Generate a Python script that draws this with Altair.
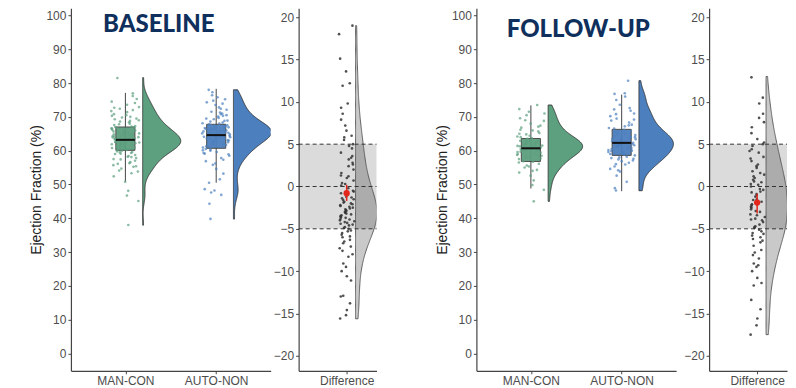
import altair as alt
import pandas as pd

GROUPS = ["MAN-CON", "AUTO-NON"]
COLORS = ["#5ca07f", "#4c7fbe"]
TITLE_COLOR = "#0f2f5c"
PANEL_TITLES = ["BASELINE", "FOLLOW-UP"]
Y_TITLE = "Ejection Fraction (%)"
DIFF_LABEL = "Difference"

BASELINE_MAN_CON = [
    38.0, 45.1, 46.7, 48.1, 50.8, 52.4, 53.3, 54.1, 54.7, 55.2, 55.7, 56.1, 56.6, 57.0,
    57.4, 57.8, 58.1, 58.4, 58.7, 59.0, 59.3, 59.5, 59.8, 60.0, 60.2, 60.4, 60.6, 60.8,
    61.0, 61.1, 61.3, 61.5, 61.6, 61.8, 62.0, 62.1, 62.3, 62.4, 62.6, 62.7, 62.9, 63.0,
    63.1, 63.3, 63.4, 63.6, 63.8, 64.0, 64.2, 64.4, 64.6, 64.8, 65.0, 65.2, 65.4, 65.7,
    65.9, 66.2, 66.5, 66.8, 67.0, 67.3, 67.6, 68.0, 68.4, 68.8, 69.3, 69.8, 70.3, 70.8,
    71.4, 72.0, 72.4, 72.9, 73.6, 74.5, 75.3, 76.2, 77.0, 81.5,
    58.2, 59.1, 60.3, 60.9, 61.4, 61.9, 62.2, 62.5, 62.8, 63.2, 63.5, 63.9, 64.3, 64.7,
    65.1, 65.5, 66.0, 66.6, 67.1, 67.8, 68.6, 69.5, 70.5, 71.7, 72.7, 57.5, 56.3, 55.4,
    59.6, 60.5, 61.2, 62.4, 63.7, 64.5, 65.8, 66.9, 69.0, 70.0, 74.1, 53.8,
]
BASELINE_AUTO_NON = [
    39.8, 44.3, 46.9, 47.6, 48.2, 48.6, 50.5, 51.5, 53.2, 54.6, 55.8, 56.9, 57.8, 58.5,
    59.1, 59.6, 60.1, 60.5, 60.9, 61.3, 61.7, 62.0, 62.3, 62.6, 62.9, 63.1, 63.4, 63.6,
    63.8, 64.0, 64.2, 64.4, 64.6, 64.8, 65.0, 65.2, 65.4, 65.5, 65.7, 65.9, 66.0, 66.2,
    66.4, 66.5, 66.7, 66.9, 67.0, 67.2, 67.4, 67.6, 67.8, 68.0, 68.3, 68.6, 68.9, 69.3,
    69.7, 70.1, 70.5, 71.0, 71.5, 72.1, 72.8, 73.5, 74.3, 75.2, 76.4, 77.3, 78.0,
    57.3, 58.9, 60.3, 61.1, 61.9, 62.5, 63.0, 63.5, 63.9, 64.3, 64.7, 65.1, 65.6, 66.1,
    66.6, 67.1, 67.5, 68.1, 68.8, 69.5, 70.3, 71.3, 72.4, 73.9, 75.8, 62.8, 64.1, 65.3,
    66.3, 67.3, 60.0, 59.3, 56.2, 70.8, 74.8,
]
FOLLOWUP_MAN_CON = [
    45.0, 48.4, 49.8, 51.2, 52.6, 53.5, 54.3, 55.0, 55.6, 56.1, 56.5, 56.9, 57.3, 57.7,
    58.1, 58.5, 58.8, 59.1, 59.4, 59.7, 60.0, 60.2, 60.4, 60.6, 60.8, 61.0, 61.2, 61.4,
    61.6, 61.8, 62.0, 62.2, 62.4, 62.6, 62.8, 63.1, 63.4, 63.7, 64.0, 64.4, 64.8, 65.2,
    65.7, 66.2, 66.8, 67.4, 68.0, 68.8, 69.6, 70.5, 71.5, 72.3, 73.5,
    55.3, 56.7, 57.5, 58.3, 59.0, 59.6, 60.1, 60.5, 60.9, 61.3, 61.7, 62.1, 62.5, 62.9,
    63.5, 64.2, 65.0, 66.0, 67.1, 69.0, 71.0, 54.0, 58.7, 61.5, 60.3, 63.0,
]
FOLLOWUP_AUTO_NON = [
    48.2, 48.9, 50.8, 52.6, 53.8, 54.6, 55.3, 55.9, 56.4, 56.9, 57.4, 57.8, 58.2, 58.6,
    59.0, 59.3, 59.6, 59.9, 60.2, 60.5, 60.8, 61.1, 61.4, 61.7, 62.0, 62.3, 62.5, 62.8,
    63.1, 63.4, 63.7, 64.0, 64.3, 64.6, 65.0, 65.4, 65.8, 66.2, 66.7, 67.2, 67.7, 68.3,
    68.9, 69.5, 70.2, 71.0, 71.8, 72.6, 73.6, 75.0, 76.8, 77.0, 80.7,
    56.0, 57.1, 58.0, 58.8, 59.5, 60.0, 60.6, 61.2, 61.9, 62.4, 62.9, 63.5, 64.1, 64.8,
    65.6, 66.5, 67.5, 69.2, 70.8, 72.2, 54.2, 57.6, 61.6, 63.9, 76.0,
]
DIFF_BASELINE = [
    -15.6, -15.2, -14.6, -13.8, -13.0, -12.9, -11.1, -10.6, -10.0, -9.5, -9.1, -8.3, -7.6,
    -7.1, -6.7, -6.3, -6.0, -5.9, -5.7, -5.5, -5.2, -5.0, -4.9, -4.8, -4.6, -4.5, -4.4,
    -4.2, -4.1, -4.0, -3.9, -3.8, -3.6, -3.5, -3.4, -3.3, -3.2, -3.0, -2.9, -2.8, -2.6,
    -2.5, -2.4, -2.3, -2.2, -2.0, -1.9, -1.8, -1.6, -1.5, -1.4, -1.2, -1.0, -0.8, -0.5,
    -0.2, 0.1, 0.4, 0.7, 1.0, 1.3, 1.6, 2.0, 2.4, 2.8, 3.2, 3.6, 4.0, 4.5, 5.0, 5.5, 6.0,
    6.6, 7.2, 7.9, 8.6, 9.3, 9.8, 11.9, 12.2, 13.6, 15.1, 18.0, 19.0,
    -6.5, -5.3, -4.3, -3.7, -3.1, -2.7, -2.1, -1.3, -0.6, 0.3, 1.2, 2.6, 3.4, 4.8, 5.8,
    -7.3, -8.0,
]
DIFF_FOLLOWUP = [
    -17.5, -16.4, -15.6, -14.5, -13.4, -11.7, -11.4, -10.8, -10.0, -9.5, -9.1, -8.5, -8.1,
    -7.5, -7.0, -6.6, -6.2, -6.0, -5.8, -5.5, -5.3, -5.1, -4.9, -4.7, -4.5, -4.2, -3.9,
    -3.8, -3.6, -3.3, -3.0, -2.7, -2.5, -2.4, -2.1, -1.8, -1.5, -1.2, -1.0, -0.9, -0.6,
    -0.4, -0.3, 0.0, 0.3, 0.5, 0.6, 1.0, 1.2, 1.4, 1.8, 2.2, 2.6, 3.0, 3.5, 4.0, 4.4, 4.8,
    5.2, 5.6, 6.3, 7.0, 7.6, 8.1, 8.6, 9.8, 10.5, 12.9,
    -6.4, -5.6, -4.8, -4.0, -3.4, -2.9, -2.2, -1.6, -0.7, 0.2, 0.8, 1.6, 2.4, 3.3, 4.2,
    5.0, -7.8, -9.3,
]

# box statistics per group: lower whisker, Q1, median, Q3, upper whisker
BOX_BASELINE = [[50.9, 60.1, 63.2, 67.0, 77.1], [50.5, 60.7, 64.6, 67.8, 78.3]]
BOX_FOLLOWUP = [[48.8, 56.8, 60.7, 63.6, 73.4], [48.0, 58.6, 62.3, 66.3, 76.6]]

# mean difference with its interval: mean, low, high
MEAN_BASELINE = [-0.8, -1.7, 0.2]
MEAN_FOLLOWUP = [-1.9, -3.2, -0.85]

EQUIV_BOUNDS = [-5, 5]
REF_LINES = [-5, 0, 5]
EF_TICKS = list(range(0, 101, 10))
DIFF_TICKS = list(range(-20, 21, 5))

PW, DW, H = 200, 78, 363
FONT = "Liberation Sans"
EF_DOMAIN = [-5.15, 102.15]
DIFF_DOMAIN = [-21.77, 21.06]

# deterministic pseudo-random horizontal spread for the jittered dots
HASH = "(((sin(datum.rn * 12.9898 + {s}) * 43758.5453) % 1 + 1) % 1)"


def main_panel(values, box, title, tx, ty, vwidth):
    rows = []
    for i, (g, vals) in enumerate(zip(GROUPS, values)):
        for v in vals:
            rows.append({"g": g, "gx": i + 1, "v": v})
    df = pd.DataFrame(rows)
    bdf = pd.DataFrame({
        "g": GROUPS, "gx": [1, 2],
        "lo": [b[0] for b in box], "q1": [b[1] for b in box], "med": [b[2] for b in box],
        "q3": [b[3] for b in box], "hi": [b[4] for b in box],
    })
    xs = alt.Scale(domain=[0.4, 2.6], nice=False, zero=False)
    ys = alt.Scale(domain=EF_DOMAIN, nice=False, zero=False)
    xax = alt.Axis(values=[1, 2], title=None,
                   labelExpr=f"datum.value == 1 ? '{GROUPS[0]}' : '{GROUPS[1]}'")
    yax = alt.Axis(values=EF_TICKS, title=Y_TITLE, titlePadding=2)
    color = alt.Color("g:N", scale=alt.Scale(domain=GROUPS, range=COLORS), legend=None)

    def X(f):
        return alt.X(f, type="quantitative", scale=xs, axis=xax)

    def Y(f):
        return alt.Y(f, type="quantitative", scale=ys, axis=yax)

    violin = alt.Chart(df).transform_joinaggregate(
        vmin="min(v)", vmax="max(v)", groupby=["g"]
    ).transform_density(
        "v", groupby=["g", "gx", "vmin", "vmax"], extent=[30, 90], bandwidth=2.0,
        steps=400, as_=["v", "dens"]
    ).transform_filter(
        "datum.v >= datum.vmin - 0.1 && datum.v <= datum.vmax + 0.1"
    ).transform_joinaggregate(
        dmax="max(dens)", groupby=["g"]
    ).transform_calculate(
        xb="datum.gx + 0.19", xr=f"datum.gx + 0.19 + {vwidth} * datum.dens / datum.dmax"
    ).mark_area(orient="horizontal", clip=True, stroke="#333333", strokeWidth=0.9,
                opacity=1).encode(y=Y("v"), x=X("xr"), x2="xb:Q", color=color)

    whisk = alt.Chart(bdf).mark_rule(color="#444444", strokeWidth=1).encode(
        x=X("gx"), y=Y("lo"), y2="hi:Q")
    boxr = alt.Chart(bdf).transform_calculate(
        xl="datum.gx - 0.105", xh="datum.gx + 0.105"
    ).mark_rect(stroke="#444444", strokeWidth=1, opacity=0.95).encode(
        x=X("xl"), x2="xh:Q", y=Y("q1"), y2="q3:Q", color=color)
    pts = alt.Chart(df).transform_window(
        rn="row_number()", groupby=["g"]
    ).transform_calculate(
        xj="datum.gx + 0.16 * (" + HASH.format(s="datum.gx * 7.1") + " * 2 - 1)"
    ).mark_circle(size=7, opacity=0.7).encode(x=X("xj"), y=Y("v"), color=color)
    med = alt.Chart(bdf).transform_calculate(
        xl="datum.gx - 0.105", xh="datum.gx + 0.105"
    ).mark_rule(color="#111111", strokeWidth=2).encode(x=X("xl"), x2="xh:Q", y=Y("med"))
    ttl = alt.Chart(pd.DataFrame({"t": [title]})).mark_text(
        font="Lato", fontWeight=900, fontSize=24, color=TITLE_COLOR,
        align="center", baseline="alphabetic"
    ).encode(text="t:N", x=alt.value(tx), y=alt.value(ty))
    return alt.layer(violin, whisk, boxr, pts, med, ttl).properties(width=PW, height=H)


def diff_panel(values, mean):
    df = pd.DataFrame({"v": values})
    mdf = pd.DataFrame({"x": [1], "m": [mean[0]], "lo": [mean[1]], "hi": [mean[2]]})
    xs = alt.Scale(domain=[0.26, 1.46], nice=False, zero=False)
    ys = alt.Scale(domain=DIFF_DOMAIN, nice=False, zero=False)
    xax = alt.Axis(values=[1], title=None, labelExpr=f"'{DIFF_LABEL}'")
    yax = alt.Axis(values=DIFF_TICKS, title=None)

    def X(f):
        return alt.X(f, type="quantitative", scale=xs, axis=xax)

    def Y(f):
        return alt.Y(f, type="quantitative", scale=ys, axis=yax)

    band = alt.Chart(pd.DataFrame({"lo": [EQUIV_BOUNDS[0]], "hi": [EQUIV_BOUNDS[1]]})).mark_rect(
        color="black", opacity=0.14).encode(y=Y("lo"), y2="hi:Q", x=alt.value(0), x2=alt.value(DW))
    violin = alt.Chart(df).transform_joinaggregate(
        vmin="min(v)", vmax="max(v)"
    ).transform_density(
        "v", groupby=["vmin", "vmax"], extent=[-25, 25], bandwidth=2.2, steps=400,
        as_=["v", "dens"]
    ).transform_filter(
        "datum.v >= datum.vmin - 0.1 && datum.v <= datum.vmax + 0.1"
    ).transform_joinaggregate(dmax="max(dens)").transform_calculate(
        xb="1.137", xr="1.137 + 0.33 * datum.dens / datum.dmax"
    ).mark_area(orient="horizontal", clip=True, fill="black", fillOpacity=0.21,
                stroke="#555555", strokeWidth=0.9).encode(y=Y("v"), x=X("xr"), x2="xb:Q")
    lines = alt.Chart(pd.DataFrame({"r": REF_LINES})).mark_rule(
        strokeDash=[4, 3], color="#333333", strokeWidth=1).encode(
        y=Y("r"), x=alt.value(0), x2=alt.value(DW))
    pts = alt.Chart(df).transform_window(rn="row_number()").transform_calculate(
        xj="1 + 0.12 * (" + HASH.format(s="3.3") + " * 2 - 1)"
    ).mark_circle(size=7, color="#333333", opacity=0.85).encode(x=X("xj"), y=Y("v"))
    err = alt.Chart(mdf).mark_rule(color="#e3261b", strokeWidth=1.5).encode(
        x=X("x"), y=Y("lo"), y2="hi:Q")
    dot = alt.Chart(mdf).mark_circle(size=40, color="#e3261b", opacity=1).encode(
        x=X("x"), y=Y("m"))
    return alt.layer(band, violin, lines, pts, err, dot).properties(width=DW, height=H)


p1 = main_panel([BASELINE_MAN_CON, BASELINE_AUTO_NON], BOX_BASELINE, PANEL_TITLES[0], 88, 24, 0.42)
p2 = diff_panel(DIFF_BASELINE, MEAN_BASELINE)
p3 = main_panel([FOLLOWUP_MAN_CON, FOLLOWUP_AUTO_NON], BOX_FOLLOWUP, PANEL_TITLES[1], 102, 29, 0.38)
p4 = diff_panel(DIFF_FOLLOWUP, MEAN_FOLLOWUP)

chart = alt.hconcat(
    alt.hconcat(p1, p2, spacing=2),
    alt.hconcat(p3, p4, spacing=7),
    spacing=57,
).properties(
    padding={"left": 21, "top": 0, "right": 0, "bottom": 0}
).configure_view(stroke=None).configure_axis(
    grid=False, domainColor="#444444", domainWidth=1.2, tickColor="#444444", tickSize=3,
    labelColor="#4d4d4d", labelFont=FONT, labelFontSize=12, labelPadding=2,
    titleFont=FONT, titleFontSize=14, titleFontWeight="normal", titleColor="#222222",
)

chart.save("out.html", embed_options={"renderer": "svg", "actions": False})
